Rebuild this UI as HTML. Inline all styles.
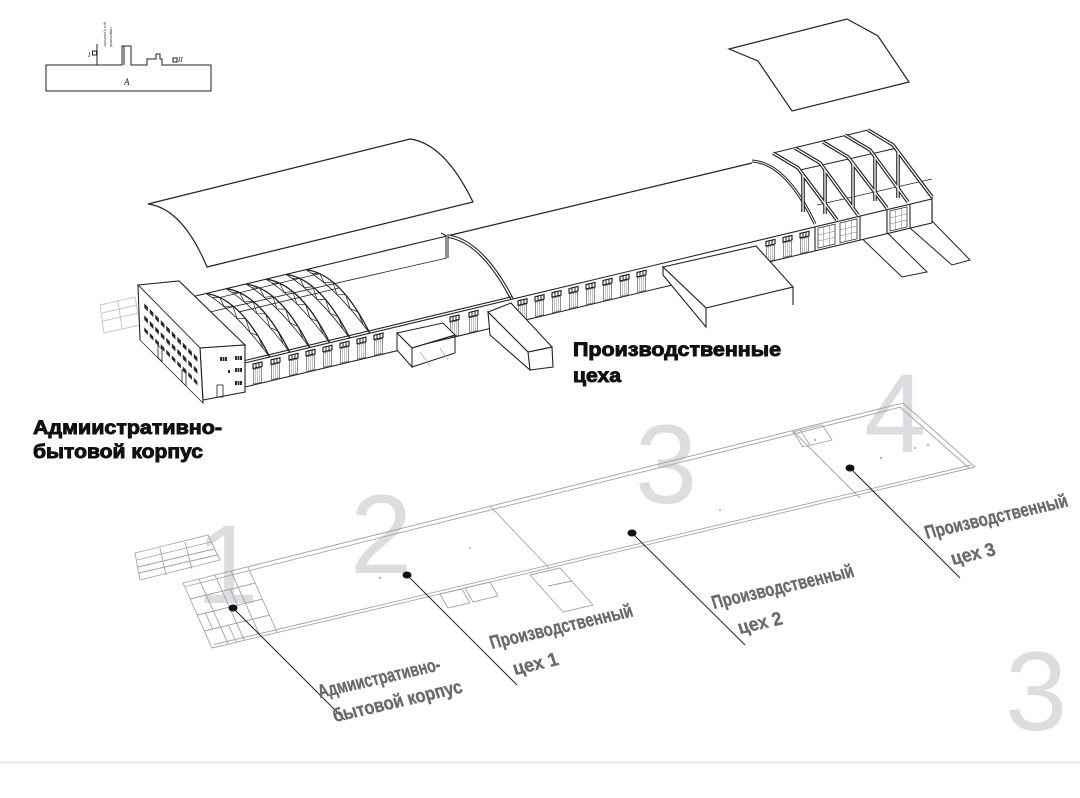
<!DOCTYPE html>
<html><head><meta charset="utf-8"><style>
html,body{margin:0;padding:0;background:#fff;}
svg{display:block;}
.bk{font-family:"Liberation Sans","Noto Sans CJK SC",sans-serif;font-weight:bold;fill:#111;stroke:#111;stroke-width:0.9;}
.gl{font-family:"Liberation Sans Narrow","Liberation Sans","Noto Sans CJK SC",sans-serif;font-weight:bold;fill:#6a6a6a;stroke:#6a6a6a;stroke-width:0.35;font-size:19px;}
.num{font-family:"Liberation Sans","Noto Sans CJK SC",sans-serif;font-size:112px;fill:#dcdde0;}
</style></head><body>
<svg width="1080" height="798" viewBox="0 0 1080 798" xmlns="http://www.w3.org/2000/svg">
<defs>
<pattern id="win" width="5.5" height="12" patternUnits="userSpaceOnUse"><rect x="0.8" y="0" width="3.6" height="4.5" fill="#2a2a2a"/></pattern>
<g id="gate"><rect x="0" y="3" width="9" height="4.5" fill="#fff" stroke="#111" stroke-width="1.1"/><path d="M3,3v4.5M6,3v4.5" stroke="#111" stroke-width="0.9"/><rect x="0.5" y="8.5" width="8" height="14.5" fill="none" stroke="#444" stroke-width="0.6"/><path d="M2.5,8.5v14.5M4.5,8.5v14.5M6.5,8.5v14.5" stroke="#8a8a8a" stroke-width="0.5"/></g>
<g id="bigwin"><rect width="17" height="20" fill="none" stroke="#333" stroke-width="0.8"/><path d="M5.7,0v20M11.3,0v20M0,7h17M0,13h17" stroke="#777" stroke-width="0.5"/></g>
<g id="truss" fill="none" stroke="#222"><path d="M0,0 Q34.5,4.5 64,64" stroke-width="1.3"/><path d="M0,0 Q30,18 64,64" stroke-width="0.8"/><path d="M6,3.9 L13.6,4 L18.4,13.3 L26.8,12.4 L31,25 L39.6,25.2 L44,38.9 L52,42.4 L57.2,55.1" stroke-width="0.7"/></g>
</defs>
<rect width="1080" height="798" fill="#fff"/>

<!-- mini diagram -->
<g fill="none" stroke="#222" stroke-width="1">
<path d="M97,65 H122 V46 H131 V65 H147 V59 H156 V54 H160 V59 H162 V65 H211 V91 H46 V65 H97"/>
<path d="M124,46 V65"/>
<path d="M97,44 V65"/>
<rect x="92.5" y="51" width="4" height="4"/>
<rect x="173" y="58" width="4" height="4"/>
</g>
<text x="88" y="57" font-family="Liberation Serif,serif" font-style="italic" font-size="7" fill="#222">I</text>
<text x="178" y="62" font-family="Liberation Serif,serif" font-style="italic" font-size="7" fill="#222">II</text>
<text x="124" y="85" font-family="Liberation Serif,serif" font-style="italic" font-size="9" fill="#222">A</text>
<text transform="translate(104,22) rotate(90)" font-family="Liberation Serif,serif" font-style="italic" font-size="4.5" fill="#333">цех кузнечно-</text>
<text transform="translate(110,27) rotate(90)" font-family="Liberation Serif,serif" font-style="italic" font-size="4.5" fill="#333">сварочный</text>

<!-- floating roofs -->
<path d="M148,204 L410,139 Q444.5,143.5 473,202 L207,267 Q182.5,208.5 148,204 Z" fill="none" stroke="#222" stroke-width="1.2"/>
<path d="M729,49 L758,61 L792,111 L909,82 L878,36 L847,19 Z" fill="none" stroke="#222" stroke-width="1.2"/>

<!-- big grey numbers -->
<text class="num" x="196" y="603">1</text>
<text class="num" x="350" y="573">2</text>
<text class="num" x="635" y="503">3</text>
<text class="num" x="864" y="452">4</text>
<text class="num" x="1005" y="730">3</text>

<!-- floor plan -->
<g fill="none" stroke="#a3a3a3" stroke-width="0.9">
<path d="M183,583 L903,403 M186,586.5 L901,407"/>
<path d="M212,648 L975,467 M214,644.5 L971,465"/>
<path d="M903,403 L975,467 M900,407 L969,468"/>
<path d="M183,583 L212,648"/>
<path d="M248,567 L277,632"/>
<path d="M490,506 L550,569"/>
<path d="M793,431 L860,498"/>
<path d="M440,594 L462,589 L470,603 L448,608 Z M465,588 L490,582 L498,596 L473,602 Z"/>
<path d="M530,575 L560,568 L593,605 L563,612 Z M548,586 L572,581"/>
<path d="M793,432 L822,425 L832,440 L803,447 Z M800,430 L810,445"/>
<g transform="matrix(1,-0.245,0.45,1,183,583)">
<path d="M0,16 H65 M0,32 H65 M0,48 H65 M16,0 V65 M32,0 V65 M48,0 V65 M8,32 V48 M24,48 V65 M40,16 V32"/>
</g>
<path d="M135,553 L208,535 L220,560 L140,580 Z M137,560 L211,542 M138,567 L214,549 M139,573 L217,555 M160,548 L166,575 M185,542 L192,569"/>
<path d="M100,305 L135,297 L140,325 L104,333 Z M102,313 L137,305 M103,321 L139,313 M118,301 L122,329" stroke="#c4c4c4"/>
</g>
<g fill="#b5b5b5">
<circle cx="380" cy="578" r="1.2"/><circle cx="470" cy="548" r="1"/><circle cx="720" cy="510" r="1"/><circle cx="881" cy="458" r="1.2"/><circle cx="915" cy="448" r="1.2"/><circle cx="928" cy="445" r="1.2"/><circle cx="815" cy="440" r="1.2"/>
</g>

<!-- hall 1 interior -->
<g fill="none" stroke="#222">
<path d="M183,299 L447,236" stroke-width="1.1"/>
<path d="M179,319 L447,258" stroke-width="0.8"/>
<path d="M179,281 V319 M179,319 L228,367" stroke-width="0.8"/>
<path d="M239.3,311.8 L339.3,287.9" stroke-width="0.8"/>
<path d="M219.6,297.5 L319.6,273.6" stroke-width="0.7"/>
</g>
<use href="#truss" x="206" y="293.5"/>
<use href="#truss" x="226" y="288.7"/>
<use href="#truss" x="246" y="284"/>
<use href="#truss" x="266" y="279.2"/>
<use href="#truss" x="286" y="274.4"/>
<use href="#truss" x="306" y="269.6"/>

<!-- hall 2 roof -->
<g fill="none" stroke="#222">
<path d="M447,236 L752,163" stroke-width="1.2"/>
<path d="M447,236 Q481.5,240.5 512,299" stroke-width="3.6"/>
<path d="M447,236 Q481.5,240.5 512,299" stroke="#fff" stroke-width="1.4"/>
<path d="M447,236 V258" stroke-width="3"/>
<path d="M447,236 V258" stroke="#fff" stroke-width="1"/>
<path d="M441,233 L447,236" stroke-width="1"/>
<path d="M752,161 Q786,163 815,224" stroke-width="3"/>
<path d="M752,161 Q786,163 815,224" stroke="#fff" stroke-width="1"/>
</g>

<!-- hall 3 frames -->
<g fill="none" stroke="#222">
<path d="M773,153 L868,130" stroke-width="1"/>
<path d="M800,170 L897,148" stroke-width="1"/>
<path d="M817,205 L932,179" stroke-width="0.7"/>
<g stroke-width="3.6">
<path d="M803,175 V212 M825,170 V214 M853,163 V207 M875,157 V201 M898,151 V198"/>
<path d="M773,153 L798,168 L837,220 M795,148 L820,163 L858,215 M823,142 L848,157 L887,208 M845,135 L870,150 L908,202 M868,130 L893,145 L932,197"/>
</g>
<g stroke="#fff" stroke-width="1.3">
<path d="M803,175 V212 M825,170 V214 M853,163 V207 M875,157 V201 M898,151 V198"/>
<path d="M773,153 L798,168 L837,220 M795,148 L820,163 L858,215 M823,142 L848,157 L887,208 M845,135 L870,150 L908,202 M868,130 L893,145 L932,197"/>
</g>
<path d="M932,197 V221" stroke-width="1.2"/>
</g>

<!-- front wall -->
<g transform="translate(245,363) skewY(-13.43)">
<rect x="0" y="0" width="687" height="24" fill="#fff"/>
<path d="M0,0 H687 M0,-2.5 H267 M0,24 H687 M0,0 V24 M570,0 V24 M615,0 V24 M642,0 V24 M665,0 V24 M687,0 V24" fill="none" stroke="#222" stroke-width="1.1"/>
<use href="#gate" x="8"/><use href="#gate" x="26"/><use href="#gate" x="44"/><use href="#gate" x="61"/>
<use href="#gate" x="78"/><use href="#gate" x="95"/><use href="#gate" x="112"/><use href="#gate" x="129"/>
<use href="#gate" x="205"/><use href="#gate" x="224"/>
<use href="#gate" x="273"/><use href="#gate" x="290"/><use href="#gate" x="307"/><use href="#gate" x="324"/>
<use href="#gate" x="341"/><use href="#gate" x="358"/><use href="#gate" x="375"/><use href="#gate" x="392"/>
<use href="#gate" x="521"/><use href="#gate" x="538"/><use href="#gate" x="555"/>
<use href="#bigwin" x="573" y="2"/><use href="#bigwin" x="595" y="2"/><use href="#bigwin" x="645" y="2"/>
</g>

<!-- ramps -->
<path d="M863,239.5 L902,277 L927,272 L888,233.5 M910,228 L952,265 L970,260 L932,221" fill="none" stroke="#222" stroke-width="1"/>

<!-- small box -->
<g fill="#fff" stroke="#222" stroke-width="1">
<path d="M397,333 L443,323 L455,335 L412,348 Z"/>
<path d="M397,333 L412,348 L412,367 L397,350 Z"/>
<path d="M412,348 L455,335 L455,353 L412,367 Z" fill="none"/>
</g>
<path d="M420,352 L430,366 M440,348 L448,360" stroke="#aaa" stroke-width="0.7" fill="none"/>

<!-- passage box -->
<g fill="#fff" stroke="#222" stroke-width="1.1">
<path d="M488,312 L511,303 L552,347 L528,352 Z"/>
<path d="M488,312 L528,352 L530,370 L490,335 Z"/>
<path d="M528,352 L552,347 L553,367 L530,370" fill="none"/>
</g>

<!-- canopy -->
<g fill="#fff" stroke="#222" stroke-width="1.1">
<path d="M663,267 L756,246 L793,287 L706,308 Z"/>
<path d="M663,267 L706,308 L706,327 L663,275 Z"/>
<path d="M793,287 V305" fill="none"/>
</g>

<!-- admin building -->
<g stroke="#222" stroke-width="1.1">
<path d="M138,285 L179,281 L245,345 L200,348 Z" fill="#fff"/>
<path d="M141,288 L200,351" fill="none" stroke-width="0.7"/>
<path d="M200,348 L245,345 L245,392 L203,400 Z" fill="#fff"/>
</g>
<g transform="matrix(1,1.016,0,1,138,285)">
<path d="M0,0 L62,0 L65,52 L2,53 Z" fill="#fff" stroke="#222" stroke-width="1.1"/>
<rect x="5" y="11" width="55" height="29" fill="url(#win)"/>
<rect x="20" y="40" width="4" height="12" fill="#fff" stroke="#222" stroke-width="0.8"/>
<rect x="44" y="40" width="4" height="12" fill="#fff" stroke="#222" stroke-width="0.8"/>
</g>
<g fill="#2a2a2a">
<rect x="220" y="357" width="7" height="4"/><rect x="235" y="356" width="7" height="4"/>
<rect x="228" y="370" width="2" height="3"/><rect x="235" y="368" width="7" height="4"/>
<rect x="235" y="381" width="7" height="4"/>
</g>
<path d="M222.3,357v4M224.6,357v4M237.3,356v4M239.6,356v4M237.3,368v4M239.6,368v4M237.3,381v4M239.6,381v4" stroke="#fff" stroke-width="0.6"/>
<rect x="217" y="385" width="6" height="12" fill="none" stroke="#222" stroke-width="0.8"/>

<!-- black titles -->
<text class="bk" x="573" y="356" font-size="19" textLength="208" lengthAdjust="spacingAndGlyphs">Производственные</text>
<text class="bk" x="573" y="382" font-size="19" textLength="48" lengthAdjust="spacingAndGlyphs">цеха</text>
<text class="bk" x="33" y="434" font-size="19" textLength="189" lengthAdjust="spacingAndGlyphs">Адмиистративно-</text>
<text class="bk" x="33" y="458" font-size="19" textLength="170" lengthAdjust="spacingAndGlyphs">бытовой корпус</text>

<!-- leaders -->
<g stroke="#222" stroke-width="1" fill="none">
<path d="M233,608 L345,720"/>
<path d="M407,575 L517,685"/>
<path d="M632,533 L745,645"/>
<path d="M850,468 L960,578"/>
</g>
<g fill="#111">
<ellipse cx="233" cy="608" rx="4.5" ry="3.5"/>
<ellipse cx="407" cy="575" rx="4.5" ry="3.5"/>
<ellipse cx="632" cy="533" rx="4.5" ry="3.5"/>
<ellipse cx="850" cy="468" rx="4.5" ry="3.5"/>
</g>

<!-- slanted grey labels -->
<text class="gl" transform="translate(320,698) rotate(-13) skewX(5)" textLength="125" lengthAdjust="spacingAndGlyphs">Адмиистративно-</text>
<text class="gl" transform="translate(335,722) rotate(-13) skewX(5)" textLength="132" lengthAdjust="spacingAndGlyphs">бытовой корпус</text>
<text class="gl" transform="translate(492,649) rotate(-13) skewX(5)" textLength="146" lengthAdjust="spacingAndGlyphs">Производственный</text>
<text class="gl" transform="translate(515,675) rotate(-13) skewX(5)" textLength="46" lengthAdjust="spacingAndGlyphs">цех 1</text>
<text class="gl" transform="translate(714,609) rotate(-13) skewX(5)" textLength="145" lengthAdjust="spacingAndGlyphs">Производственный</text>
<text class="gl" transform="translate(740,634) rotate(-13) skewX(5)" textLength="45" lengthAdjust="spacingAndGlyphs">цех 2</text>
<text class="gl" transform="translate(927,539) rotate(-13) skewX(5)" textLength="146" lengthAdjust="spacingAndGlyphs">Производственный</text>
<text class="gl" transform="translate(953,565) rotate(-13) skewX(5)" textLength="45" lengthAdjust="spacingAndGlyphs">цех 3</text>

<!-- bottom separator -->
<rect x="0" y="761" width="1080" height="3" fill="#f1f1f2"/>
</svg>
</body></html>
